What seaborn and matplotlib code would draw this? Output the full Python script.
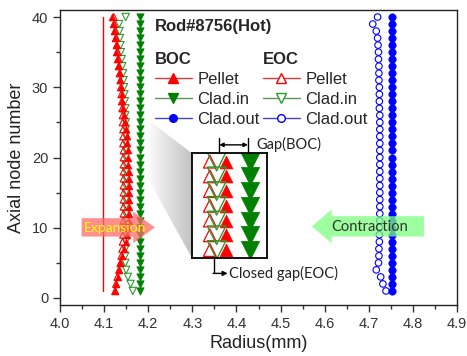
import numpy as np
import matplotlib
matplotlib.use("Agg")
import matplotlib.pyplot as plt
from matplotlib.lines import Line2D
from matplotlib.patches import Polygon, FancyArrow
from matplotlib.colors import LinearSegmentedColormap
from matplotlib.ticker import MultipleLocator
import seaborn as sns

# axial nodes 1..40
nodes = list(range(1, 41))

# radius (mm), node 1 -> node 40
pellet_boc = [4.125, 4.127, 4.131, 4.134, 4.137, 4.140, 4.146, 4.150, 4.153, 4.155,
              4.156, 4.156, 4.157, 4.157, 4.157, 4.157, 4.156, 4.156, 4.155, 4.155,
              4.154, 4.153, 4.152, 4.150, 4.148, 4.146, 4.143, 4.141, 4.140, 4.138,
              4.136, 4.134, 4.132, 4.130, 4.128, 4.126, 4.124, 4.122, 4.120, 4.118]
pellet_eoc = [4.125, 4.127, 4.130, 4.134, 4.137, 4.139, 4.141, 4.142, 4.143, 4.143,
              4.144, 4.144, 4.144, 4.144, 4.144, 4.144, 4.144, 4.144, 4.144, 4.144,
              4.144, 4.143, 4.143, 4.143, 4.142, 4.142, 4.141, 4.140, 4.139, 4.138,
              4.137, 4.136, 4.134, 4.133, 4.131, 4.129, 4.127, 4.125, 4.123, 4.122]
cladin_boc = [4.181, 4.181, 4.181, 4.181, 4.181, 4.181, 4.181, 4.181, 4.181, 4.181,
              4.181, 4.181, 4.181, 4.181, 4.181, 4.181, 4.181, 4.181, 4.181, 4.181,
              4.181, 4.181, 4.181, 4.181, 4.181, 4.181, 4.181, 4.181, 4.181, 4.181,
              4.181, 4.181, 4.181, 4.181, 4.181, 4.181, 4.181, 4.181, 4.181, 4.181]
cladin_eoc = [4.165, 4.160, 4.154, 4.150, 4.148, 4.148, 4.148, 4.149, 4.149, 4.149,
              4.149, 4.149, 4.149, 4.149, 4.149, 4.149, 4.149, 4.149, 4.149, 4.149,
              4.149, 4.149, 4.149, 4.149, 4.149, 4.148, 4.148, 4.147, 4.146, 4.145,
              4.144, 4.143, 4.141, 4.140, 4.138, 4.137, 4.136, 4.135, 4.134, 4.149]
cladout_boc = [4.753, 4.753, 4.753, 4.753, 4.753, 4.753, 4.753, 4.753, 4.753, 4.753,
               4.753, 4.753, 4.753, 4.753, 4.753, 4.753, 4.753, 4.753, 4.753, 4.753,
               4.753, 4.753, 4.753, 4.753, 4.753, 4.753, 4.753, 4.753, 4.753, 4.753,
               4.753, 4.753, 4.753, 4.753, 4.753, 4.753, 4.753, 4.753, 4.753, 4.753]
cladout_eoc = [4.739, 4.732, 4.727, 4.717, 4.722, 4.723, 4.723, 4.724, 4.724, 4.724,
               4.725, 4.725, 4.725, 4.725, 4.725, 4.725, 4.725, 4.725, 4.725, 4.725,
               4.725, 4.725, 4.725, 4.725, 4.725, 4.725, 4.724, 4.724, 4.724, 4.724,
               4.723, 4.723, 4.723, 4.722, 4.722, 4.721, 4.720, 4.717, 4.709, 4.720]

# thin red reference line
ref_line_x = [4.097, 4.097]
ref_line_y = [1, 40]

# zoomed illustration rows (inset)
inset_rows = [0, 1, 2, 3, 4, 5, 6]

RED = "#ff0000"
GREEN = "#008000"
OPEN_GREEN = "#2e9a2e"
BLUE = "#0000ff"

sns.set_theme(style="ticks")
plt.rcParams["font.family"] = ["Liberation Sans", "DejaVu Sans"]
ANNOT_FONT = ["Lato", "DejaVu Sans"]

fig = plt.figure(figsize=(4.67, 3.56), dpi=100)
ax = fig.add_axes([60 / 467, 51 / 356, 397 / 467, 295 / 356])

# series
ax.plot(ref_line_x, ref_line_y, color=RED, lw=1.0, zorder=2)
sns.scatterplot(x=cladin_eoc, y=nodes, marker="v", s=28, color=OPEN_GREEN,
                facecolor="none", edgecolor=OPEN_GREEN, linewidth=0.8, ax=ax, zorder=3)
sns.scatterplot(x=pellet_eoc, y=nodes, marker="^", s=24, color=RED,
                facecolor="none", edgecolor=RED, linewidth=0.8, ax=ax, zorder=3)
sns.scatterplot(x=pellet_boc, y=nodes, marker="^", s=24, color=RED,
                edgecolor=RED, linewidth=0.5, ax=ax, zorder=4)
sns.scatterplot(x=cladin_boc, y=nodes, marker="v", s=28, color=GREEN,
                edgecolor=GREEN, linewidth=0.5, ax=ax, zorder=4)
sns.scatterplot(x=cladout_eoc, y=nodes, marker="o", s=22, color=BLUE,
                facecolor="none", edgecolor=BLUE, linewidth=0.8, ax=ax, zorder=3)
sns.scatterplot(x=cladout_boc, y=nodes, marker="o", s=28, color=BLUE,
                edgecolor=BLUE, linewidth=0.5, ax=ax, zorder=4)

# gray zoom wedge towards inset
wedge = Polygon([(4.195, 25.6), (4.299, 20.6), (4.299, 5.7), (4.195, 17.5)],
                closed=True, facecolor="none", edgecolor="none")
ax.add_patch(wedge)
grad_cmap = LinearSegmentedColormap.from_list("wedge", ["#ffffff", "#c2c2c2"])
im = ax.imshow(np.linspace(0, 1, 256).reshape(1, -1), cmap=grad_cmap,
               extent=[4.195, 4.299, 5.7, 25.6], aspect="auto", zorder=1)
im.set_clip_path(wedge)

ax.set_xlim(4.0, 4.9)
ax.set_ylim(-1, 41)

# inset with enlarged markers
axin = ax.inset_axes([4.299, 5.7, 0.170, 14.95], transform=ax.transData, zorder=5)
axin.set_facecolor("white")
axin.set_xlim(0, 1)
axin.set_ylim(-0.54, 6.59)
axin.set_xticks([])
axin.set_yticks([])
for sp in axin.spines.values():
    sp.set_color("black")
    sp.set_linewidth(1.3)
sns.scatterplot(x=[0.24] * len(inset_rows), y=inset_rows, marker="^", s=85, color=RED,
                facecolor="none", edgecolor=RED, linewidth=0.9, ax=axin)
sns.scatterplot(x=[0.45] * len(inset_rows), y=inset_rows, marker="^", s=85, color=RED,
                edgecolor=RED, linewidth=0.5, ax=axin)
sns.scatterplot(x=[0.33] * len(inset_rows), y=inset_rows, marker="v", s=180, color=OPEN_GREEN,
                facecolor="none", edgecolor=OPEN_GREEN, linewidth=1.0, ax=axin)
sns.scatterplot(x=[0.77] * len(inset_rows), y=inset_rows, marker="v", s=175, color=GREEN,
                edgecolor=GREEN, linewidth=0.5, ax=axin)

# gap annotations
ax.annotate("", xy=(4.361, 21.8), xytext=(4.426, 21.8),
            arrowprops=dict(arrowstyle="<|-|>", lw=1.0, color="black",
                            shrinkA=0, shrinkB=0, mutation_scale=6), zorder=6)
ax.plot([4.361, 4.361], [20.6, 22.8], color="black", lw=1.0, zorder=6)
ax.plot([4.426, 4.426], [20.6, 22.8], color="black", lw=1.0, zorder=6)
ax.text(4.446, 21.9, "Gap(BOC)", fontsize=10.5, family=ANNOT_FONT, color="#222222",
        va="center", ha="left")
ax.plot([4.348, 4.348], [5.7, 3.5], color="black", lw=1.0, zorder=6)
ax.annotate("", xy=(4.380, 3.5), xytext=(4.347, 3.5),
            arrowprops=dict(arrowstyle="-|>", lw=1.0, color="black",
                            shrinkA=0, shrinkB=0, mutation_scale=7), zorder=6)
ax.text(4.382, 3.5, "Closed gap(EOC)", fontsize=10.5, family=ANNOT_FONT, color="#222222",
        va="center", ha="left")

# expansion / contraction arrows
ax.add_patch(FancyArrow(4.049, 10.05, 0.166, 0, width=2.62, head_width=4.5,
                        head_length=0.049, length_includes_head=True,
                        facecolor="#ff6a6a", edgecolor="none", alpha=0.75, zorder=6))
ax.text(4.125, 10.0, "Expansion", fontsize=10, family=ANNOT_FONT, color="#ffff00",
        ha="center", va="center", zorder=7)
ax.add_patch(FancyArrow(4.825, 10.2, -0.254, 0, width=2.9, head_width=4.8,
                        head_length=0.045, length_includes_head=True,
                        facecolor="#7dff7d", edgecolor="none", alpha=0.75, zorder=6))
ax.text(4.703, 10.15, "Contraction", fontsize=10.5, family=ANNOT_FONT, color="#333333",
        ha="center", va="center", zorder=7)

# title and legends
ax.text(4.215, 38.7, "Rod#8756(Hot)", fontsize=12, fontweight="bold", va="center", ha="left")

boc_handles = [
    Line2D([], [], color="#e03a3a", lw=1, marker="^", ms=7, mfc=RED, mec=RED),
    Line2D([], [], color="#5a965a", lw=1, marker="v", ms=7, mfc=GREEN, mec=GREEN),
    Line2D([], [], color="#4646c8", lw=1, marker="o", ms=5.5, mfc=BLUE, mec=BLUE),
]
eoc_handles = [
    Line2D([], [], color="#e03a3a", lw=1, marker="^", ms=7, mfc="white", mec=RED),
    Line2D([], [], color="#5a965a", lw=1, marker="v", ms=7, mfc="white", mec=OPEN_GREEN),
    Line2D([], [], color="#4646c8", lw=1, marker="o", ms=5.5, mfc="white", mec=BLUE),
]
labels = ["Pellet", "Clad.in", "Clad.out"]
leg_kw = dict(loc="upper left", frameon=False, fontsize=12, alignment="left",
              title_fontproperties={"weight": "bold", "size": 12},
              handlelength=2.2, handletextpad=0.35, labelspacing=0.3,
              borderpad=0, borderaxespad=0, numpoints=1)
leg1 = ax.legend(boc_handles, labels, title="BOC", bbox_to_anchor=(0.239, 0.858), **leg_kw)
ax.add_artist(leg1)
ax.legend(eoc_handles, labels, title="EOC", bbox_to_anchor=(0.511, 0.858), **leg_kw)

# axes styling
ax.xaxis.set_major_locator(MultipleLocator(0.1))
ax.xaxis.set_minor_locator(MultipleLocator(0.05))
ax.yaxis.set_major_locator(MultipleLocator(10))
ax.yaxis.set_minor_locator(MultipleLocator(5))
ax.tick_params(which="major", direction="out", length=5, width=1, labelsize=10.5,
               labelcolor="#333333", color="#333333")
ax.tick_params(which="minor", direction="out", length=3, width=1, color="#333333")
for sp in ax.spines.values():
    sp.set_color("#222222")
    sp.set_linewidth(1.0)
ax.set_xlabel("Radius(mm)", fontsize=13, color="#222222", labelpad=3)
ax.set_ylabel("Axial node number", fontsize=13, color="#222222", labelpad=5)

fig.savefig("out.png", dpi=100)
